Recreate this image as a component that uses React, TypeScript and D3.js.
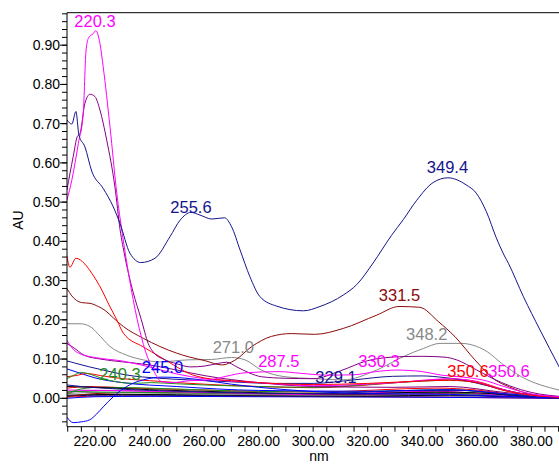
import React from 'react';
import * as d3 from 'd3';

type P = [number, number];

// ---- axis ticks ----
const xMajorTicks = [220, 240, 260, 280, 300, 320, 340, 360, 380];
const yMajorTicks = [0.0, 0.1, 0.2, 0.3, 0.4, 0.5, 0.6, 0.7, 0.8, 0.9];

// ---- spectra (nm, AU) ----
const navyMain: P[] = [
  [209.7, 0.71], [211.5, 0.699], [213, 0.731], [214.1, 0.671], [216.3, 0.641], [218.8, 0.579],
  [223, 0.535], [226.7, 0.488], [229.2, 0.445], [232.8, 0.37], [236.8, 0.346], [242, 0.357],
  [247.5, 0.412], [251.2, 0.454], [255.2, 0.474], [258.5, 0.467], [262.8, 0.457], [267.5, 0.46],
  [270.1, 0.437], [273.2, 0.378], [276.8, 0.31], [280.5, 0.259], [286.6, 0.235], [296.4, 0.223],
  [302.5, 0.234], [311, 0.263], [316, 0.29], [322, 0.345], [328.7, 0.415], [333, 0.455],
  [338, 0.505], [344, 0.55], [349.4, 0.562], [356.1, 0.544], [359.8, 0.523], [363.5, 0.476],
  [367.1, 0.41], [370, 0.365], [371.6, 0.344], [377.1, 0.259], [383.2, 0.174], [390.2, 0.08],
];
const magentaMain: P[] = [
  [209.7, 0.505], [211.5, 0.556], [213.9, 0.65], [215.7, 0.727], [216.7, 0.885], [217.6, 0.918],
  [219.4, 0.93], [220.3, 0.937], [221.8, 0.905], [223, 0.845], [225.5, 0.692], [228, 0.522],
  [230, 0.42], [232.5, 0.31], [235.5, 0.2], [238.5, 0.12], [241.5, 0.07], [244.5, 0.042],
  [248, 0.04], [255, 0.045], [262, 0.047], [268, 0.056], [275, 0.065], [287.5, 0.068],
  [295, 0.064], [305, 0.059], [315, 0.06], [323, 0.068], [330.3, 0.072], [340, 0.068],
  [347, 0.059], [355, 0.054], [362, 0.047], [370, 0.03], [378, 0.014], [390.2, 0.004],
];
const purpleMain: P[] = [
  [209.7, 0.531], [212, 0.616], [213.5, 0.667], [214.5, 0.675], [216.3, 0.752], [218.2, 0.775],
  [220, 0.769], [221.8, 0.735], [224.3, 0.658], [227.3, 0.539], [229.2, 0.43], [231, 0.36],
  [234, 0.27], [237, 0.2], [239.5, 0.14], [242, 0.113], [245, 0.1], [250, 0.088], [255, 0.08],
  [260, 0.082], [265.2, 0.089], [268.3, 0.092], [272, 0.08], [276.8, 0.064], [281, 0.055],
  [290, 0.051], [300, 0.05], [310, 0.07], [320, 0.096], [331.8, 0.106], [340, 0.107],
  [348, 0.105], [352.6, 0.098], [360, 0.072], [366, 0.05], [372, 0.032], [380, 0.015], [390.2, 0.005],
];
const redHigh: P[] = [
  [209.7, 0.363], [210.8, 0.334], [213, 0.357], [216.3, 0.342], [218.8, 0.319], [222.5, 0.276],
  [225, 0.24], [228, 0.2], [230.4, 0.166], [237.7, 0.131], [243.8, 0.106], [250, 0.08],
  [254.2, 0.064], [260, 0.052], [270, 0.045], [280, 0.04], [300, 0.035], [320, 0.038],
  [340, 0.044], [350, 0.046], [360, 0.04], [370, 0.02], [380, 0.008], [390.2, 0.003],
];
const maroonMain: P[] = [
  [209.7, 0.28], [211.5, 0.261], [215, 0.244], [218.2, 0.242], [221.2, 0.234], [223.7, 0.224],
  [226.7, 0.205], [230.4, 0.183], [237.7, 0.153], [243.8, 0.132], [250, 0.115], [254.2, 0.106],
  [260.3, 0.096], [266.5, 0.085], [271.3, 0.097], [277.5, 0.132], [284.8, 0.158], [292, 0.165],
  [300.5, 0.163], [311, 0.178], [323.3, 0.212], [331.5, 0.234], [339, 0.232], [346, 0.195],
  [352, 0.157], [359.3, 0.098], [366.7, 0.047], [371.6, 0.03], [381.4, 0.008], [390.2, 0.003],
];
const grayMain: P[] = [
  [209.7, 0.19], [214.5, 0.19], [218.2, 0.183], [221, 0.165], [225.5, 0.132], [231.6, 0.11],
  [237.7, 0.098], [243.8, 0.093], [254.2, 0.098], [262.8, 0.099], [270.1, 0.104], [275, 0.098],
  [281, 0.072], [289.7, 0.055], [300.7, 0.05], [311, 0.047], [323.3, 0.072], [333, 0.106],
  [340.4, 0.127], [346.5, 0.14], [354.4, 0.14], [360, 0.132], [364, 0.118], [369.1, 0.089],
  [376.4, 0.055], [390.2, 0.021],
];
const magentaSecond: P[] = [
  [209.7, 0.148], [212, 0.125], [215, 0.112], [220, 0.104], [230, 0.095], [240, 0.08],
  [250, 0.062], [260, 0.05], [280, 0.04], [300, 0.032], [330, 0.04], [350.6, 0.05],
  [360, 0.042], [368, 0.025], [380, 0.008], [390.2, 0.003],
];
const purpleSecond: P[] = [
  [209.7, 0.14], [212, 0.13], [216, 0.11], [222, 0.1], [230, 0.093], [240, 0.085],
  [250, 0.072], [260, 0.058], [280, 0.04], [300, 0.03], [330, 0.028], [350, 0.03],
  [370, 0.015], [390.2, 0.003],
];
const navySecond: P[] = [
  [209.7, 0.095], [211, 0.093], [213, 0.089], [218, 0.08], [223, 0.072], [231, 0.06],
  [243.8, 0.051], [254.2, 0.047], [270, 0.042], [285, 0.038], [300, 0.038], [315, 0.047],
  [329.1, 0.056], [340, 0.057], [348, 0.053], [356, 0.045], [365, 0.03], [375, 0.014], [390.2, 0.004],
];
const greenMain: P[] = [
  [209.7, 0.05], [212, 0.058], [215, 0.066], [218, 0.062], [222, 0.052], [228, 0.042],
  [235, 0.038], [240.3, 0.04], [250, 0.037], [260, 0.034], [280, 0.03], [300, 0.028],
  [320, 0.035], [340, 0.044], [350, 0.046], [360, 0.04], [370, 0.02], [380, 0.008], [390.2, 0.003],
];
const blueMain: P[] = [
  [209.7, -0.048], [212, -0.062], [215, -0.06], [218, -0.055], [220.6, -0.04], [223, -0.022],
  [226.7, 0.004], [231.6, 0.03], [237.7, 0.047], [245, 0.054], [252, 0.052], [260, 0.046],
  [270, 0.036], [290, 0.022], [320, 0.012], [350, 0.01], [370, 0.005], [390.2, 0.001],
];
const redSecond: P[] = [
  [209.7, 0.055], [213, 0.058], [217, 0.063], [222, 0.058], [230, 0.05], [240, 0.045],
  [250, 0.04], [260, 0.036], [280, 0.03], [300, 0.027], [320, 0.034], [340, 0.045],
  [350.6, 0.049], [360, 0.043], [370, 0.022], [380, 0.008], [390.2, 0.003],
];
const blueLow1: P[] = [
  [209.7, 0.075], [215, 0.063], [220, 0.052], [230, 0.04], [250, 0.03], [280, 0.02],
  [320, 0.018], [350, 0.022], [370, 0.012], [390.2, 0.002],
];
const navyLow1: P[] = [
  [209.7, 0.034], [215, 0.03], [225, 0.025], [250, 0.018], [300, 0.012], [340, 0.02],
  [355, 0.02], [375, 0.006], [390.2, 0.001],
];
const blackLow1: P[] = [
  [209.7, 0.03], [220, 0.028], [240, 0.022], [270, 0.016], [310, 0.011], [345, 0.016],
  [360, 0.014], [380, 0.004], [390.2, 0.001],
];
const redLow1: P[] = [
  [209.7, 0.026], [218, 0.03], [230, 0.027], [260, 0.021], [300, 0.016], [345, 0.026],
  [360, 0.021], [378, 0.005], [390.2, 0.001],
];
const greenLow1: P[] = [
  [209.7, 0.01], [215, 0.024], [222, 0.028], [240, 0.026], [270, 0.019], [310, 0.016],
  [350, 0.022], [370, 0.01], [390.2, 0.002],
];
const purpleLow1: P[] = [
  [209.7, 0.015], [220, 0.02], [240, 0.018], [280, 0.012], [320, 0.01], [350, 0.013], [390.2, 0.001],
];
const maroonLow1: P[] = [
  [209.7, 0.004], [220, 0.012], [240, 0.015], [270, 0.012], [320, 0.009], [350, 0.011], [390.2, 0.001],
];
const magentaLow1: P[] = [
  [209.7, 0.021], [225, 0.02], [260, 0.015], [300, 0.01], [345, 0.018], [370, 0.008], [390.2, 0.001],
];
const grayLow1: P[] = [
  [209.7, 0.012], [220, 0.015], [250, 0.012], [300, 0.008], [350, 0.01], [390.2, 0.001],
];
const blueLow2: P[] = [
  [209.7, 0.0], [220, 0.004], [240, 0.005], [280, 0.004], [330, 0.003], [390.2, 0.0],
];
const navyLow2: P[] = [
  [209.7, 0.006], [225, 0.008], [260, 0.007], [320, 0.005], [350, 0.006], [390.2, 0.0],
];
const blackLow2: P[] = [
  [209.7, 0.008], [230, 0.01], [270, 0.008], [320, 0.006], [350, 0.008], [390.2, 0.001],
];
const greenLow2: P[] = [
  [209.7, 0.018], [222, 0.016], [250, 0.014], [300, 0.011], [345, 0.015], [365, 0.01], [390.2, 0.001],
];
const redLow2: P[] = [
  [209.7, 0.003], [225, 0.006], [260, 0.005], [320, 0.004], [390.2, 0.0],
];

// ---- peak labels ----
const labelTexts = ['220.3', '255.6', '349.4', '331.5', '348.2', '271.0', '287.5', '330.3', '329.1', '350.6', '350.6', '245.0', '240.3'];
const labelNm = [220.0, 255.2, 349.26, 331.66, 341.63, 270.71, 287.4, 324.14, 308.38, 356.78, 371.81, 244.75, 229.17];
const labelAu = [0.946, 0.4715, 0.5743, 0.248, 0.1486, 0.1155, 0.0806, 0.0806, 0.039, 0.0551, 0.0551, 0.0653, 0.0466];
const labelColors = ['#ff00ff', '#14148c', '#14148c', '#8b0a0a', '#888888', '#888888', '#ff00ff', '#ff00ff', '#14148c', '#ff0000', '#ff00ff', '#0000ff', '#1e8c1e'];

const C = {
  navy: '#14148c', magenta: '#ff00ff', purple: '#800080', red: '#ff0000', maroon: '#8b0a0a',
  gray: '#888888', green: '#1e8c1e', blue: '#0000ff', black: '#000000',
};

const seriesList: { pts: P[]; color: string }[] = [
  { pts: redLow2, color: C.red }, { pts: blueLow2, color: C.blue }, { pts: navyLow2, color: C.navy },
  { pts: blackLow2, color: C.black }, { pts: maroonLow1, color: C.maroon }, { pts: grayLow1, color: C.gray },
  { pts: purpleLow1, color: C.purple }, { pts: greenLow2, color: C.green }, { pts: magentaLow1, color: C.magenta },
  { pts: redLow1, color: C.red }, { pts: greenLow1, color: C.green }, { pts: blackLow1, color: C.black },
  { pts: navyLow1, color: C.navy }, { pts: blueLow1, color: C.blue }, { pts: redSecond, color: C.red },
  { pts: greenMain, color: C.green }, { pts: navySecond, color: C.navy }, { pts: blueMain, color: C.blue },
  { pts: purpleSecond, color: C.purple }, { pts: magentaSecond, color: C.magenta },
  { pts: grayMain, color: C.gray }, { pts: maroonMain, color: C.maroon }, { pts: redHigh, color: C.red },
  { pts: purpleMain, color: C.purple }, { pts: magentaMain, color: C.magenta }, { pts: navyMain, color: C.navy },
];

export default function App() {
  const W = 559, H = 464;
  const left = 67, right = 559, top = 12.7, bottom = 426.7;
  const x = d3.scaleLinear().domain([220, 390]).range([95, 558.6]);
  const y = d3.scaleLinear().domain([0, 0.9]).range([398.3, 45.2]);
  const line = d3.line<P>().x(d => x(d[0])).y(d => y(d[1])).curve(d3.curveMonotoneX);
  const xMinor = d3.range(42, 79).map(i => i * 5);
  const yMinor = d3.range(-3, 50).map(i => i * 0.02);
  const font = "'Liberation Sans', Arial, sans-serif";

  return (
    <svg width={W} height={H} style={{ position: 'absolute', left: 0, top: 0, background: '#fff' }} fontFamily={font}>
      <defs>
        <clipPath id="plot">
          <rect x={left} y={top} width={right - left} height={bottom - top} />
        </clipPath>
      </defs>
      <rect x={0} y={0} width={W} height={H} fill="#fff" />
      <g clipPath="url(#plot)">
        {seriesList.map((s, i) => (
          <path key={i} d={line(s.pts) || ''} fill="none" stroke={s.color} strokeWidth={1} />
        ))}
      </g>
      {/* frame */}
      <line x1={left} x2={right} y1={top} y2={top} stroke="#000" strokeWidth={1} />
      <line x1={left} x2={left} y1={top} y2={bottom} stroke="#000" strokeWidth={1} />
      <line x1={left} x2={right} y1={bottom} y2={bottom} stroke="#000" strokeWidth={1} />
      {/* y ticks */}
      {yMinor.map((v, i) => (
        <line key={'ym' + i} x1={left - 5} x2={left} y1={y(v)} y2={y(v)} stroke="#000" strokeWidth={1} />
      ))}
      {yMajorTicks.map((v, i) => (
        <g key={'yM' + i}>
          <line x1={left - 7} x2={left} y1={y(v)} y2={y(v)} stroke="#000" strokeWidth={1} />
          <text x={60} y={y(v)} dy="0.36em" textAnchor="end" fontSize={14} fill="#000">{d3.format('.2f')(v)}</text>
        </g>
      ))}
      {/* x ticks */}
      {xMinor.map((v, i) => (
        <line key={'xm' + i} x1={x(v)} x2={x(v)} y1={bottom} y2={bottom + 5} stroke="#000" strokeWidth={1} />
      ))}
      {xMajorTicks.map((v, i) => (
        <text key={'xM' + i} x={x(v)} y={446} textAnchor="middle" fontSize={14} fill="#000">{d3.format('.2f')(v)}</text>
      ))}
      <text x={319} y={461} textAnchor="middle" fontSize={14} fill="#000">nm</text>
      <text transform="translate(23,220) rotate(-90)" textAnchor="middle" fontSize={14} fill="#000">AU</text>
      {/* peak labels */}
      {labelTexts.map((t, i) => (
        <text key={'lb' + i} x={x(labelNm[i])} y={y(labelAu[i])} textAnchor="middle" fontSize={16.5} fill={labelColors[i]}>{t}</text>
      ))}
    </svg>
  );
}
